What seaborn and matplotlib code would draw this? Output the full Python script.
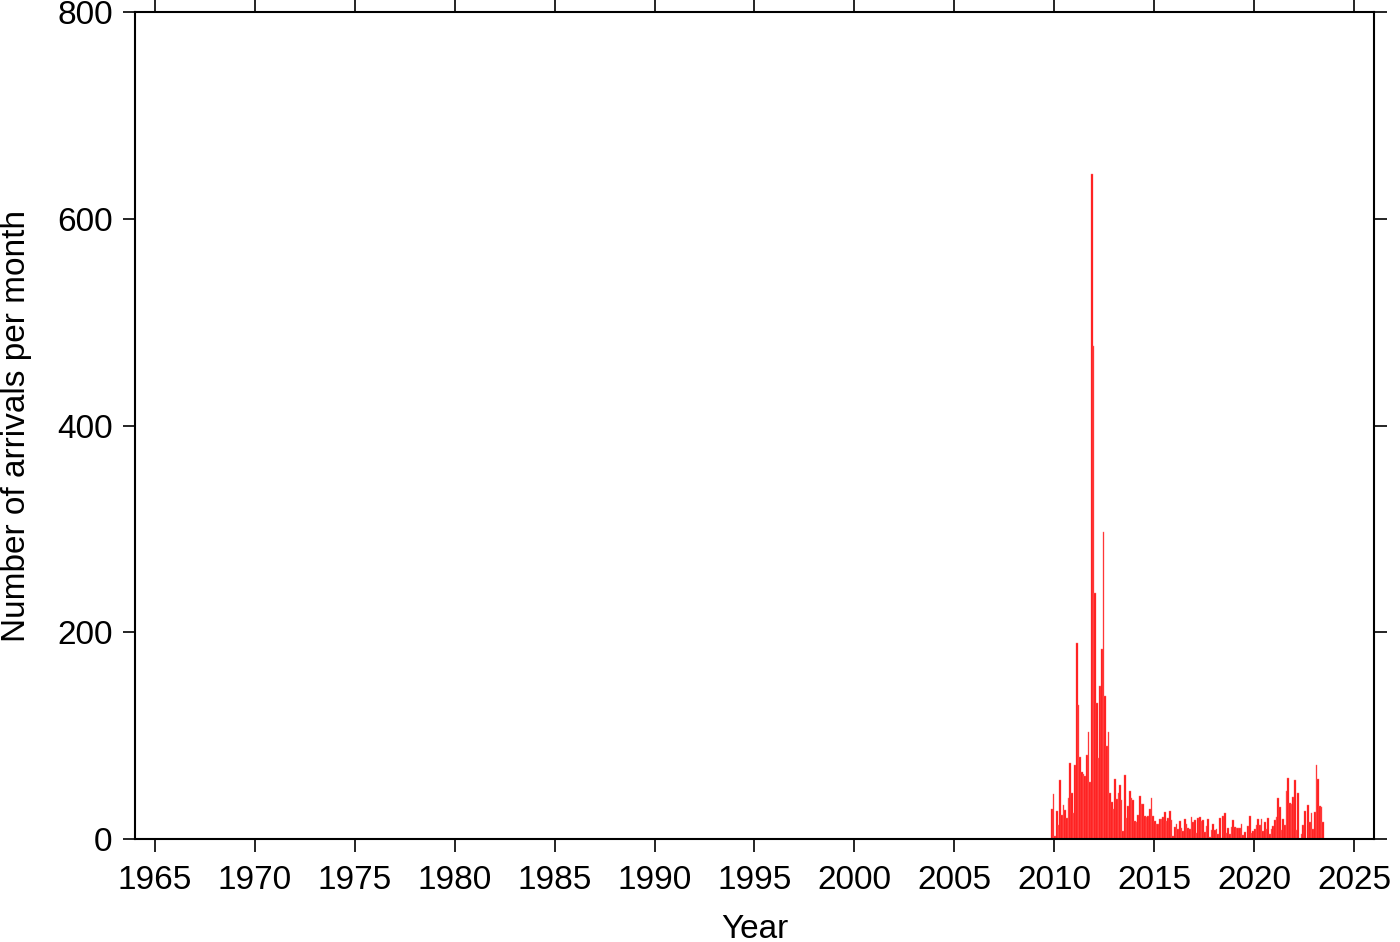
"""Monthly arrival counts histogram."""

import matplotlib

matplotlib.use("Agg")
import matplotlib.pyplot as plt
import numpy as np
import pandas as pd
import seaborn as sns

# monthly counts, first month is November 2009
counts_a = [29, 44, 3, 27, 14, 57, 23, 33, 28, 20, 40, 74, 45, 25, 72, 190,
            130, 79, 65, 63, 61, 81, 104, 55, 643, 477, 238, 132, 78, 148, 184,
            297, 138, 90, 104, 45, 36, 29, 58, 39, 45, 52, 38, 8, 62, 20]
counts_b = [32, 46, 40, 38, 17, 16, 23, 42, 34, 34, 22, 21, 22, 29, 40, 22,
            17, 15, 15, 19, 19, 21, 26, 17]
counts_c = [20, 27, 18, 3, 12, 15, 10, 17, 11, 8, 19, 15, 11, 10, 21, 16, 18,
            6, 20, 21, 17, 18, 7, 13]
counts_d = [19, 2, 9, 15, 9, 10, 5, 20, 1, 22, 25, 6, 11, 5, 12, 18, 12, 11,
            11, 11, 15, 4, 7, 1]
counts_e = [13, 22, 6, 8, 10, 14, 19, 14, 19, 8, 16, 10, 20, 5, 10, 13, 18, 21,
            40, 31, 9, 19, 14, 46]
counts_f = [59, 35, 34, 41, 57, 9, 45, 0, 5, 14, 27, 0, 33, 16, 25, 10, 26, 72,
            58, 32, 31, 16]
start_month = "2009-11"
year_ticks = list(range(1965, 2030, 5))
count_ticks = [0, 200, 400, 600, 800]

counts = np.array(counts_a + counts_b + counts_c + counts_d + counts_e + counts_f)
months = pd.date_range(start_month, periods=len(counts), freq="MS")
month_start = np.asarray(months.year + (months.month - 1) / 12, dtype=float)
edges = list(np.append(month_start, month_start[-1] + 1 / 12))
df = pd.DataFrame({"year": month_start + 1 / 24, "n": counts})

sns.set_theme(style="white")
plt.rcParams["font.family"] = ["Liberation Sans", "DejaVu Sans"]

fig = plt.figure(figsize=(14, 9.42), dpi=100)
ax = fig.add_axes([0.0964, 0.1093, 0.885, 0.878])

sns.histplot(
    data=df,
    x="year",
    weights="n",
    bins=edges,
    color="#ff1010",
    alpha=1,
    edgecolor="#ff7070",
    linewidth=0.3,
    ax=ax,
)

ax.set_xlim(1964, 2026)
ax.set_ylim(0, 800)
ax.set_xticks(year_ticks)
ax.set_yticks(count_ticks)
ax.tick_params(axis="both", which="both", direction="out", length=9, width=1.2,
               labelsize=24, colors="black",
               top=True, right=True, bottom=True, left=True,
               labeltop=False, labelright=False)
ax.tick_params(axis="x", pad=9.5)
ax.tick_params(axis="y", pad=7)
for spine in ax.spines.values():
    spine.set_visible(True)
    spine.set_color("black")
    spine.set_linewidth(1.5)

ax.set_xlabel("Year", fontsize=24, color="black", labelpad=13)
ax.set_ylabel("Number of arrivals per month", fontsize=24, color="black",
              labelpad=18)

fig.savefig("out.png", dpi=100)
